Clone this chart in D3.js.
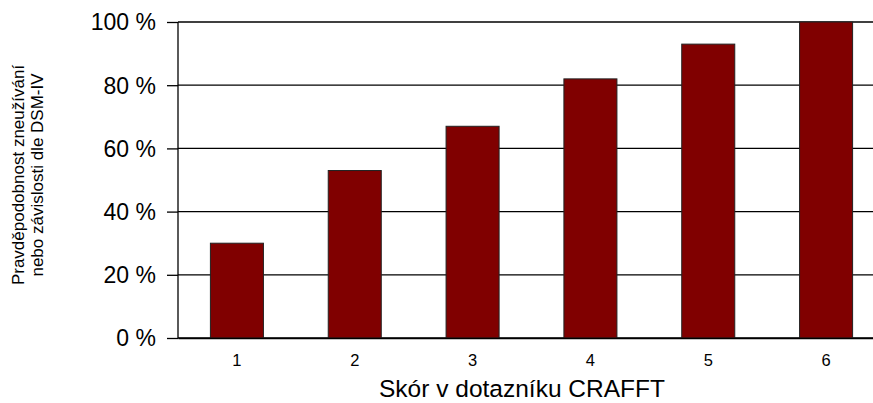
<!DOCTYPE html>
<html>
<head>
<meta charset="utf-8">
<script src="https://cdn.jsdelivr.net/npm/d3@7"></script>
<style>
  body { margin: 0; background: #fff; overflow: hidden; }
  text { font-family: "Liberation Sans", Arial, sans-serif; fill: #000; }
</style>
</head>
<body>
<div id="chart"></div>
<script>
const scores = ["1", "2", "3", "4", "5", "6"];
const probability = [30, 53, 67, 82, 93, 100];
const yTicks = [0, 20, 40, 60, 80, 100];

const width = 873, height = 403;
const margin = {top: 22, right: -12, bottom: 65, left: 178};
const innerW = width - margin.left - margin.right;
const innerH = height - margin.top - margin.bottom;

const svg = d3.select("#chart").append("svg")
    .attr("width", width)
    .attr("height", height);

const g = svg.append("g")
    .attr("transform", `translate(${margin.left},${margin.top})`);

const x = d3.scaleBand()
    .domain(scores)
    .range([0, innerW])
    .paddingInner(0.55)
    .paddingOuter(0.275);

const y = d3.scaleLinear()
    .domain([0, 100])
    .range([innerH, 0]);

// tick marks + labels
const yAxis = g.append("g")
    .call(d3.axisLeft(y).tickValues(yTicks).tickSize(11).tickFormat(d => d + " %"));
yAxis.select(".domain").remove();
yAxis.selectAll(".tick line").attr("stroke", "#000").attr("stroke-width", 1.3);
yAxis.selectAll(".tick text")
    .attr("x", -22)
    .attr("dy", "0.34em")
    .style("font-size", "23px");

// gridlines
g.append("g")
  .selectAll("line")
  .data(yTicks)
  .enter()
  .append("line")
    .attr("x1", 0)
    .attr("x2", innerW)
    .attr("y1", d => y(d))
    .attr("y2", d => y(d))
    .attr("stroke", "#000")
    .attr("stroke-width", 1.3);

// y axis line
g.append("line")
    .attr("x1", 0).attr("x2", 0)
    .attr("y1", 0).attr("y2", innerH)
    .attr("stroke", "#000")
    .attr("stroke-width", 1.3);

g.selectAll(".bar")
  .data(probability)
  .enter()
  .append("rect")
    .attr("class", "bar")
    .attr("x", (d, i) => x(scores[i]))
    .attr("y", d => y(d))
    .attr("width", x.bandwidth())
    .attr("height", d => innerH - y(d))
    .attr("fill", "#800000")
    .attr("stroke", "#222")
    .attr("stroke-width", 1);

// x axis
const xAxis = g.append("g")
    .attr("transform", `translate(0,${innerH})`)
    .call(d3.axisBottom(x).tickSize(0).tickPadding(16));
xAxis.select(".domain").attr("stroke", "#000").attr("stroke-width", 1.3);
xAxis.selectAll(".tick text").style("font-size", "16.5px");

svg.append("text")
    .attr("x", 522)
    .attr("y", 397)
    .attr("text-anchor", "middle")
    .style("font-size", "24.5px")
    .text("Skór v dotazníku CRAFFT");

const yTitle = svg.append("text")
    .attr("transform", "translate(27,175) rotate(-90)")
    .attr("text-anchor", "middle")
    .style("font-size", "17px");
yTitle.append("tspan").attr("x", 0).attr("dy", "-0.2em").text("Pravděpodobnost zneužívání");
yTitle.append("tspan").attr("x", 0).attr("dy", "1.15em").text("nebo závislosti dle DSM-IV");
</script>
</body>
</html>
